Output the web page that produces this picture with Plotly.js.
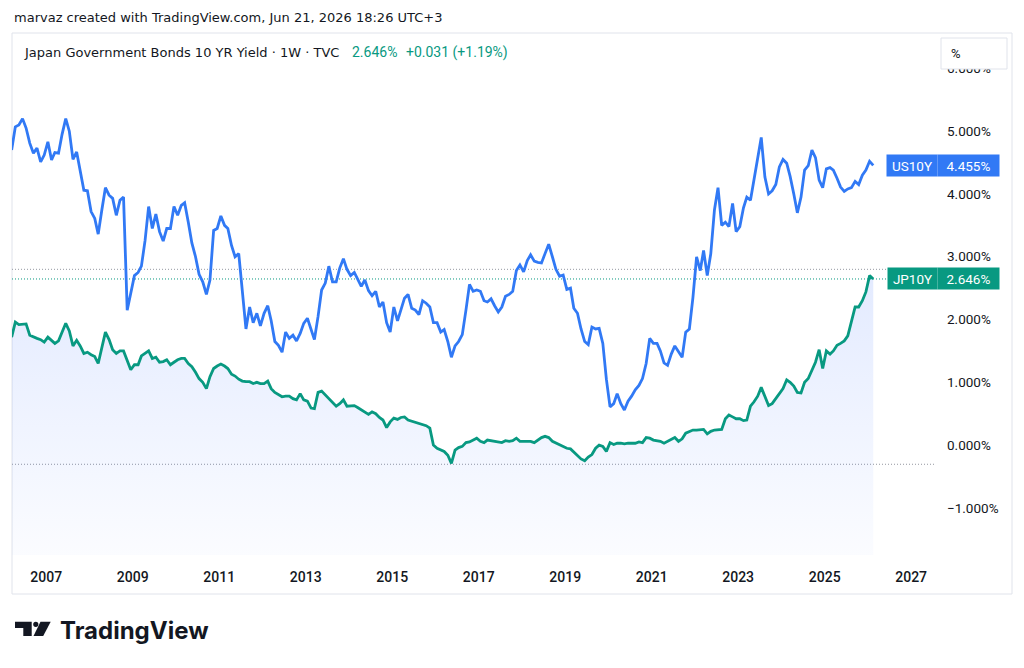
<!DOCTYPE html>
<html>
<head>
<meta charset="utf-8">
<script src="https://cdn.plot.ly/plotly-3.0.1.min.js"></script>
<style>
  html, body { margin: 0; padding: 0; background: #ffffff; }
  #chart { width: 1024px; height: 668px; }
</style>
</head>
<body>
<div id="chart"></div>
<script>
// Weekly-close series sampled once a month, starting March 2006.
const firstMonth = [2006, 3];

// US 10-year Treasury yield, %
const usYield = [
  4.70, 5.07, 5.10, 5.20, 5.05, 4.81, 4.65, 4.73, 4.51, 4.62,
  4.83, 4.54, 4.66, 4.65, 4.95, 5.20, 5.00, 4.55, 4.67, 4.38,
  4.06, 4.05, 3.72, 3.61, 3.36, 3.75, 4.10, 3.98, 3.93, 3.66,
  3.90, 3.95, 2.15, 2.42, 2.70, 2.75, 2.85, 3.26, 3.80, 3.45,
  3.68, 3.40, 3.25, 3.45, 3.45, 3.80, 3.66, 3.82, 3.86, 3.55,
  3.22, 3.00, 2.72, 2.60, 2.40, 2.63, 3.42, 3.45, 3.65, 3.50,
  3.45, 3.18, 3.00, 3.05, 2.40, 1.85, 2.20, 1.95, 2.10, 1.90,
  2.10, 2.22, 1.98, 1.65, 1.59, 1.48, 1.80, 1.70, 1.75, 1.66,
  1.78, 1.94, 2.02, 1.85, 1.68, 2.05, 2.47, 2.58, 2.85, 2.60,
  2.60, 2.82, 2.97, 2.80, 2.70, 2.75, 2.65, 2.53, 2.63, 2.46,
  2.38, 2.45, 2.20, 2.28, 1.95, 1.80, 2.20, 1.98, 2.15, 2.34,
  2.40, 2.18, 2.15, 2.08, 2.30, 2.26, 2.20, 1.95, 1.95, 1.80,
  1.84, 1.65, 1.40, 1.58, 1.65, 1.76, 2.15, 2.56, 2.45, 2.47,
  2.45, 2.30, 2.28, 2.33, 2.22, 2.12, 2.20, 2.37, 2.40, 2.45,
  2.78, 2.87, 2.76, 2.94, 3.03, 2.93, 2.91, 2.90, 3.05, 3.20,
  3.00, 2.80, 2.69, 2.71, 2.48, 2.50, 2.18, 2.10, 1.85, 1.65,
  1.60, 1.88, 1.85, 1.86, 1.62, 1.05, 0.61, 0.66, 0.82, 0.66,
  0.56, 0.70, 0.78, 0.88, 0.95, 1.06, 1.30, 1.70, 1.62, 1.62,
  1.50, 1.31, 1.27, 1.45, 1.58, 1.48, 1.40, 1.80, 1.85, 2.35,
  3.00, 2.78, 3.10, 2.70, 3.05, 3.75, 4.10, 3.50, 3.55, 3.48,
  3.85, 3.40, 3.48, 3.78, 3.95, 3.90, 4.25, 4.55, 4.90, 4.27,
  4.00, 4.05, 4.15, 4.43, 4.55, 4.49, 4.28, 4.00, 3.70, 3.95,
  4.38, 4.45, 4.70, 4.58, 4.22, 4.10, 4.40, 4.42, 4.38, 4.25,
  4.11, 4.04, 4.08, 4.10, 4.20, 4.15, 4.30, 4.38, 4.52, 4.455
];

// Japan 10-year government bond yield, %
const jpYield = [
  1.72, 1.96, 1.92, 1.92, 1.93, 1.75, 1.72, 1.70, 1.68, 1.64,
  1.72, 1.66, 1.62, 1.66, 1.80, 1.94, 1.82, 1.58, 1.67, 1.58,
  1.46, 1.48, 1.44, 1.41, 1.30, 1.58, 1.80, 1.68, 1.52, 1.46,
  1.50, 1.50, 1.35, 1.20, 1.28, 1.28, 1.42, 1.46, 1.50, 1.38,
  1.40, 1.32, 1.33, 1.36, 1.28, 1.32, 1.36, 1.38, 1.38, 1.30,
  1.25, 1.16, 1.06, 1.00, 0.90, 1.09, 1.22, 1.26, 1.29, 1.26,
  1.22, 1.13, 1.10, 1.05, 1.02, 1.01, 1.01, 0.98, 1.00, 0.98,
  0.98, 1.02, 0.90, 0.84, 0.81, 0.77, 0.78, 0.78, 0.74, 0.72,
  0.82, 0.72, 0.70, 0.59, 0.58, 0.84, 0.86, 0.80, 0.74, 0.67,
  0.62, 0.66, 0.72, 0.62, 0.62, 0.63, 0.60, 0.56, 0.53, 0.49,
  0.53, 0.50, 0.44, 0.40, 0.28, 0.37, 0.43, 0.41, 0.44, 0.45,
  0.40, 0.38, 0.36, 0.34, 0.32, 0.31, 0.27, 0.00, -0.05, -0.08,
  -0.10, -0.16, -0.29, -0.08, -0.04, -0.02, 0.04, 0.05, 0.08, 0.11,
  0.06, 0.04, 0.08, 0.07, 0.06, 0.05, 0.04, 0.07, 0.06, 0.07,
  0.11, 0.06, 0.06, 0.06, 0.06, 0.04, 0.08, 0.12, 0.14, 0.12,
  0.06, 0.03, 0.00, -0.03, -0.05, -0.06, -0.11, -0.15, -0.22, -0.25,
  -0.19, -0.15, -0.05, 0.00, -0.02, -0.10, 0.04, 0.01, 0.03, 0.03,
  0.02, 0.03, 0.03, 0.03, 0.05, 0.04, 0.12, 0.11, 0.08, 0.07,
  0.06, 0.03, 0.06, 0.10, 0.12, 0.06, 0.10, 0.19, 0.22, 0.24,
  0.24, 0.24, 0.25, 0.18, 0.22, 0.24, 0.24, 0.25, 0.42, 0.48,
  0.45, 0.42, 0.42, 0.39, 0.40, 0.62, 0.69, 0.78, 0.92, 0.76,
  0.63, 0.66, 0.74, 0.80, 0.90, 1.04, 1.00, 0.94, 0.84, 0.83,
  1.00, 1.06, 1.18, 1.32, 1.52, 1.22, 1.50, 1.45, 1.50, 1.59,
  1.62, 1.66, 1.74, 1.98, 2.20, 2.20, 2.30, 2.44, 2.70, 2.646
];

const jpPrevClose = 2.615;   // prior weekly close
const jpHighLine = 2.80;     // range high marker
const jpLowLine = -0.305;    // range low marker

const yearTicks = ['2007', '2009', '2011', '2013', '2015', '2017', '2019', '2021', '2023', '2025', '2027'];
const priceTicks = [-1, 0, 1, 2, 3, 4, 5, 6];

const headerLine = 'marvaz created with TradingView.com, Jun 21, 2026 18:26 UTC+3';
const symbolLine = 'Japan Government Bonds 10 YR Yield \u00b7 1W \u00b7 TVC';
const usName = 'US10Y';
const jpName = 'JP10Y';

// ---- derived values ----
function monthDates(n) {
  const out = [];
  for (let i = 0; i < n; i++) {
    const t = firstMonth[0] * 12 + (firstMonth[1] - 1) + i;
    const y = Math.floor(t / 12), m = (t % 12) + 1;
    out.push(y + '-' + String(m).padStart(2, '0') + '-15');
  }
  return out;
}
const dates = monthDates(usYield.length);
const usLast = usYield[usYield.length - 1];
const jpLast = jpYield[jpYield.length - 1];
const jpChange = jpLast - jpPrevClose;
const jpChangePct = jpChange / jpPrevClose * 100;
const sign = v => (v >= 0 ? '+' : '\u2212');
const fmtPct = v => (v < 0 ? '\u2212' : '') + Math.abs(v).toFixed(3) + '%';

// ---- colours ----
const usColor = '#3179f5';
const jpColor = '#089981';
const textColor = '#131722';
const frameColor = '#e0e3eb';
const markerGray = '#9598a1';

// ---- page geometry (plot area in pixels) ----
const PL = 12, PR = 936, PT = 37, PB = 555;
const px = x => (x - PL) / (PR - PL);
const py = y => (PB - y) / (PB - PT);

const yRange = [-1.75, 6.5];
const xRange = ['2006-03-18', '2027-07-30'];

const traces = [
  { // floor of the area fill
    x: [dates[0], dates[dates.length - 1]],
    y: [yRange[0], yRange[0]],
    mode: 'lines', line: { width: 0, color: 'rgba(0,0,0,0)' },
    hoverinfo: 'skip', showlegend: false
  },
  {
    name: jpName, x: dates, y: jpYield, mode: 'lines',
    line: { color: jpColor, width: 2.8 },
    fill: 'tonexty',
    fillgradient: {
      type: 'vertical', start: yRange[0], stop: Math.max(...jpYield),
      colorscale: [[0, 'rgba(41,98,255,0.02)'], [1, 'rgba(41,98,255,0.13)']]
    },
    hoverinfo: 'skip', showlegend: false
  },
  {
    name: usName, x: dates, y: usYield, mode: 'lines',
    line: { color: usColor, width: 2.8 },
    hoverinfo: 'skip', showlegend: false
  }
];

const dotted = '1px,2px';
const shapes = [
  { type: 'rect', xref: 'paper', yref: 'paper', x0: px(12), x1: px(1012), y0: py(594), y1: py(33),
    line: { color: frameColor, width: 1 }, fillcolor: 'rgba(0,0,0,0)', layer: 'below' },
  { type: 'line', xref: 'paper', yref: 'y', x0: 0, x1: 1, y0: jpHighLine, y1: jpHighLine,
    line: { color: markerGray, width: 1, dash: dotted }, layer: 'below' },
  { type: 'line', xref: 'paper', yref: 'y', x0: 0, x1: 1, y0: jpLast, y1: jpLast,
    line: { color: jpColor, width: 1, dash: dotted }, layer: 'below' },
  { type: 'line', xref: 'paper', yref: 'y', x0: 0, x1: 1, y0: jpLowLine, y1: jpLowLine,
    line: { color: markerGray, width: 1, dash: dotted }, layer: 'below' },
  // unit toggle button
  { type: 'rect', xref: 'paper', yref: 'paper', x0: px(941), x1: px(1007), y0: py(69), y1: py(38),
    line: { color: frameColor, width: 1 }, fillcolor: '#ffffff', layer: 'above' }
];

// brand mark
function pathFrom(points) {
  return 'M ' + points.map(p => px(p[0]) + ' ' + py(p[1])).join(' L ') + ' Z';
}
shapes.push({ type: 'path', xref: 'paper', yref: 'paper', layer: 'above',
  path: pathFrom([[15, 621.7], [31.7, 621.7], [31.7, 636], [23.3, 636], [23.3, 628], [15, 628]]),
  fillcolor: textColor, line: { width: 0 } });
shapes.push({ type: 'circle', xref: 'paper', yref: 'paper', layer: 'above',
  x0: px(33.2), x1: px(38.4), y0: py(627), y1: py(621.7), fillcolor: textColor, line: { width: 0 } });
shapes.push({ type: 'path', xref: 'paper', yref: 'paper', layer: 'above',
  path: pathFrom([[40.5, 621.7], [50.7, 621.7], [43.2, 636], [33.5, 636]]),
  fillcolor: textColor, line: { width: 0 } });

const uiFont = 'Roboto, "Noto Sans", sans-serif';
const headFont = '"DejaVu Sans", Verdana, sans-serif';
const annotations = [
  { xref: 'paper', yref: 'paper', x: px(12), y: py(18), xanchor: 'left', yanchor: 'middle',
    text: headerLine, showarrow: false, font: { family: headFont, size: 13, color: textColor } },
  { xref: 'paper', yref: 'paper', x: px(22), y: py(52), xanchor: 'left', yanchor: 'middle',
    text: symbolLine, showarrow: false, font: { family: headFont, size: 13, color: textColor } },
  { xref: 'paper', yref: 'paper', x: px(350), y: py(52), xanchor: 'left', yanchor: 'middle',
    text: jpLast.toFixed(3) + '%', showarrow: false, font: { family: uiFont, size: 14, color: jpColor } },
  { xref: 'paper', yref: 'paper', x: px(404), y: py(52), xanchor: 'left', yanchor: 'middle',
    text: sign(jpChange) + Math.abs(jpChange).toFixed(3) + ' (' + sign(jpChangePct) + Math.abs(jpChangePct).toFixed(2) + '%)',
    showarrow: false, font: { family: uiFont, size: 14, color: jpColor } },
  { xref: 'paper', yref: 'paper', x: px(956.5), y: py(53.5), xanchor: 'center', yanchor: 'middle',
    text: '%', showarrow: false, font: { family: uiFont, size: 13, color: textColor } },
  // last-value labels on the price scale
  { xref: 'paper', yref: 'y', x: px(886), y: usLast, xanchor: 'left', yanchor: 'middle',
    width: 50, height: 21, bgcolor: usColor, borderpad: 0, showarrow: false,
    text: usName, font: { family: uiFont, size: 13.5, color: '#ffffff' } },
  { xref: 'paper', yref: 'y', x: px(937), y: usLast, xanchor: 'left', yanchor: 'middle',
    width: 61, height: 21, bgcolor: usColor, borderpad: 0, showarrow: false,
    text: fmtPct(usLast), font: { family: uiFont, size: 13.5, color: '#ffffff' } },
  { xref: 'paper', yref: 'y', x: px(887), y: jpLast, xanchor: 'left', yanchor: 'middle',
    width: 49, height: 21, bgcolor: jpColor, borderpad: 0, showarrow: false,
    text: jpName, font: { family: uiFont, size: 13.5, color: '#ffffff' } },
  { xref: 'paper', yref: 'y', x: px(937), y: jpLast, xanchor: 'left', yanchor: 'middle',
    width: 61, height: 21, bgcolor: jpColor, borderpad: 0, showarrow: false,
    text: fmtPct(jpLast), font: { family: uiFont, size: 13.5, color: '#ffffff' } },
  { xref: 'paper', yref: 'paper', x: px(58), y: py(630), xanchor: 'left', yanchor: 'middle',
    text: 'TradingView', showarrow: false,
    font: { family: 'Inter, Roboto, sans-serif', size: 24, weight: 700, color: textColor } }
];

const layout = {
  width: 1024, height: 668,
  margin: { l: PL, r: 1024 - PR, t: PT, b: 668 - PB, pad: 0 },
  paper_bgcolor: '#ffffff', plot_bgcolor: '#ffffff',
  showlegend: false, hovermode: false,
  xaxis: {
    type: 'date', range: xRange, fixedrange: true,
    tickvals: yearTicks.map(y => y + '-01-01'), ticktext: yearTicks,
    showgrid: false, zeroline: false, showline: false, ticks: '',
    ticklabelstandoff: 12,
    tickfont: { family: uiFont, size: 14, weight: 500, color: textColor }
  },
  yaxis: {
    side: 'right', range: yRange, fixedrange: true,
    tickvals: priceTicks, ticktext: priceTicks.map(fmtPct),
    showgrid: false, zeroline: false, showline: false, ticks: '',
    ticklabelstandoff: 10,
    tickfont: { family: uiFont, size: 13.5, color: textColor }
  },
  shapes: shapes,
  annotations: annotations
};

Plotly.newPlot('chart', traces, layout, { displayModeBar: false, staticPlot: true });
</script>
</body>
</html>
